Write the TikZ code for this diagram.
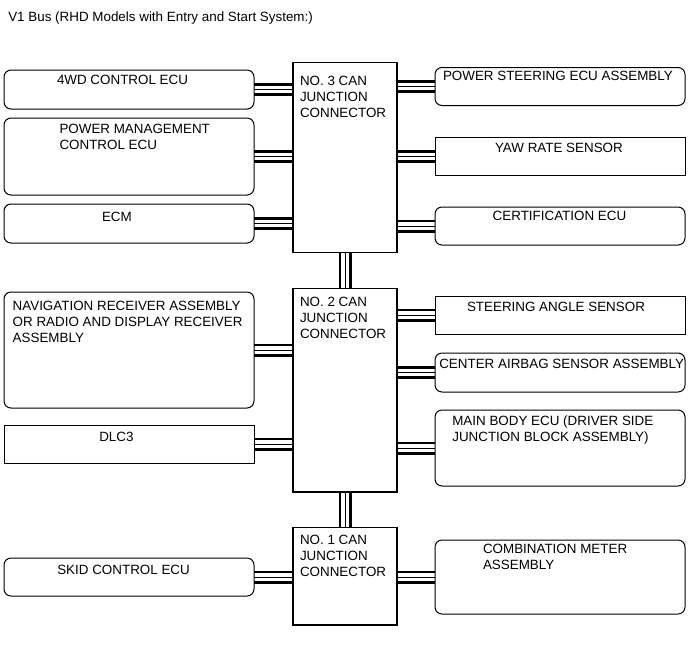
\documentclass[tikz,border=0pt]{standalone}
\usepackage{fontspec}
\setmainfont{Liberation Sans}
\usetikzlibrary{backgrounds}
\begin{document}
\begin{tikzpicture}[x=1pt,y=-1pt,
  txt/.style={anchor=north west, inner sep=0pt, outer sep=0pt, align=left,
              font=\fontsize{13.4pt}{16pt}\selectfont},
  ecu/.style={draw, line width=1pt, rounded corners=7pt, anchor=north west,
              inner sep=0pt, outer sep=0pt},
  sq/.style={draw, line width=1pt, anchor=north west, inner sep=0pt, outer sep=0pt},
  jbox/.style={draw, line width=1.2pt, anchor=north west, inner sep=0pt,
               outer sep=0pt, minimum width=104pt},
  lw/.style={minimum width=250pt},
  bus/.style={line width=1pt,
              preaction={draw, black, line width=13pt},
              preaction={draw, white, line width=7.5pt}}]
\useasboundingbox (0,0) rectangle (690,659);

% title
\node[txt] (title) at (8.3,11.8) {V1 Bus (RHD Models with Entry and Start System:)};

% junction connectors
\node[jbox, minimum height=190pt] (j3) at (293,62.7) {};
\node[jbox, minimum height=203.7pt] (j2) at (293,288.3) {};
\node[jbox, minimum height=97.7pt] (j1) at (293,527.3) {};
\node[txt] (tj3) at (300,76) {NO. 3 CAN\\JUNCTION\\CONNECTOR};
\node[txt] (tj2) at (300,296.7) {NO. 2 CAN\\JUNCTION\\CONNECTOR};
\node[txt] (tj1) at (300,535) {NO. 1 CAN\\JUNCTION\\CONNECTOR};

% left boxes
\node[ecu, lw, minimum height=39pt] (b4wd) at (4,70) {};
\node[txt] (t4wd) at (57,75.6) {4WD CONTROL ECU};
\node[ecu, lw, minimum height=77pt] (bpm) at (4,118) {};
\node[txt] (tpm) at (59.5,124.3) {POWER MANAGEMENT\\CONTROL ECU};
\node[ecu, lw, minimum height=39pt] (becm) at (4,204) {};
\node[txt] (tecm) at (102,212.5) {ECM};
\node[ecu, lw, minimum height=116pt] (bnav) at (4,292) {};
\node[txt] (tnav) at (12.7,300.7) {NAVIGATION RECEIVER ASSEMBLY\\OR RADIO AND DISPLAY RECEIVER\\ASSEMBLY};
\node[sq, lw, minimum height=38pt] (bdlc) at (4,425) {};
\node[txt] (tdlc) at (99.3,431.7) {DLC3};
\node[ecu, lw, minimum height=38pt] (bskid) at (4,558) {};
\node[txt] (tskid) at (57.3,565) {SKID CONTROL ECU};

% right boxes
\node[ecu, lw, minimum height=38pt] (bps) at (435,67.5) {};
\node[txt] (tps) at (443,71.5) {POWER STEERING ECU ASSEMBLY};
\node[sq, lw, minimum height=38.5pt] (byaw) at (435,137.3) {};
\node[txt] (tyaw) at (495,143.3) {YAW RATE SENSOR};
\node[ecu, lw, minimum height=38pt] (bcert) at (435,207) {};
\node[txt] (tcert) at (492.7,211.5) {CERTIFICATION ECU};
\node[sq, lw, minimum height=38pt] (bsteer) at (435,296) {};
\node[txt] (tsteer) at (467,302) {STEERING ANGLE SENSOR};
\node[ecu, lw, minimum height=39pt] (bair) at (435,353) {};
\node[txt] (tair) at (439.3,359.3) {CENTER AIRBAG SENSOR ASSEMBLY};
\node[ecu, lw, minimum height=76pt] (bmain) at (435,410) {};
\node[txt] (tmain) at (452.3,416) {MAIN BODY ECU (DRIVER SIDE\\JUNCTION BLOCK ASSEMBLY)};
\node[ecu, lw, minimum height=74pt] (bcomb) at (435,540) {};
\node[txt] (tcomb) at (483,544.5) {COMBINATION METER\\ASSEMBLY};

% bus lines
\begin{scope}[on background layer]
\draw[bus] (b4wd.east) -- (b4wd.east -| j3.west);
\draw[bus] (bpm.east) -- (bpm.east -| j3.west);
\draw[bus] (becm.east) -- (becm.east -| j3.west);
\draw[bus] (bnav.east) -- (bnav.east -| j2.west);
\draw[bus] (bdlc.east) -- (bdlc.east -| j2.west);
\draw[bus] (bskid.east) -- (bskid.east -| j1.west);
\draw[bus] (bps.west -| j3.east) -- (bps.west);
\draw[bus] (byaw.west -| j3.east) -- (byaw.west);
\draw[bus] (bcert.west -| j3.east) -- (bcert.west);
\draw[bus] (bsteer.west -| j2.east) -- (bsteer.west);
\draw[bus] (bair.west -| j2.east) -- (bair.west);
\draw[bus] (bmain.west -| j2.east) -- (bmain.west);
\draw[bus] (bcomb.west -| j1.east) -- (bcomb.west);
\draw[bus] (j3.south) -- (j2.north);
\draw[bus] (j2.south) -- (j1.north);
\end{scope}
\end{tikzpicture}
\end{document}
